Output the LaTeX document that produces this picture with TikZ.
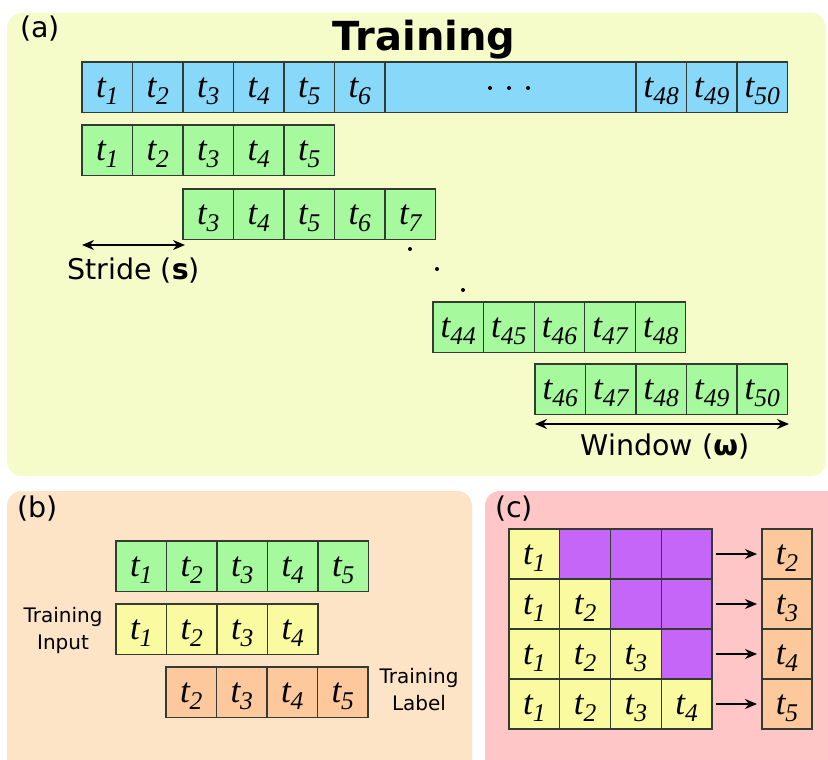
\documentclass[tikz,border=0pt]{standalone}
\usepackage{fontspec}
\usetikzlibrary{arrows.meta}
\newfontfamily\labfont{DejaVu Sans}
\newfontfamily\cellfont{Liberation Serif}
\definecolor{pa}{RGB}{245,252,201}
\definecolor{pb}{RGB}{254,228,199}
\definecolor{pc}{RGB}{255,198,200}
\definecolor{cblue}{RGB}{136,216,250}
\definecolor{cgreen}{RGB}{166,250,157}
\definecolor{cyellow}{RGB}{250,251,160}
\definecolor{corange}{RGB}{253,200,155}
\definecolor{cpurple}{RGB}{197,102,249}
\definecolor{bord}{RGB}{50,60,50}
\newcommand{\ts}[1]{{\cellfont\itshape\fontsize{35}{35}\selectfont t\raisebox{-7pt}{\fontsize{25.5}{25.5}\selectfont #1}}}
\begin{document}
\begin{tikzpicture}[x=1pt,y=-1pt,
  cell/.style={draw=bord, line width=1.1pt, minimum width=50.5pt, minimum height=50.5pt,
    inner sep=0pt, outer sep=0pt, text height=24pt, text depth=4pt, anchor=north west},
  bcell/.style={cell, fill=cblue},
  gcell/.style={cell, fill=cgreen},
  ycell/.style={cell, fill=cyellow},
  ocell/.style={cell, fill=corange},
  pcell/.style={cell, fill=cpurple},
  lab/.style={font=\labfont\fontsize{28.5}{28.5}\selectfont, inner sep=0pt},
  small/.style={font=\labfont\fontsize{20}{27}\selectfont, inner sep=0pt, align=center},
  arr/.style={-{Stealth[length=12pt,width=10pt]}, line width=1.3pt, draw=black},
  darr/.style={{Stealth[length=12pt,width=10pt]}-{Stealth[length=12pt,width=10pt]}, line width=1.3pt, draw=black}
]
\useasboundingbox (0,0) rectangle (828,760);
\clip (0,0) rectangle (828,760);
% panels
\fill[pa, rounded corners=15pt] (7,13) rectangle (826,476);
\fill[pb, rounded corners=15pt] (7,491) rectangle (472,790);
\fill[pc, rounded corners=15pt] (485,491) rectangle (860,790);

% ---------- (a) ----------
\node[lab, anchor=base west] (la) at (20,38) {(a)};
\node[anchor=base, inner sep=0pt, font=\labfont\bfseries\fontsize{40}{40}\selectfont] (title) at (424,51) {Training};

% blue series
\foreach \i in {1,...,6}
  \node[bcell] (bl\i) at ({82+50.5*(\i-1)},62) {\ts{\i}};
\node[bcell, minimum width=251pt] (bldots) at (385,62) {};
\foreach \i/\s in {1/48,2/49,3/50}
  \node[bcell] (bl\s) at ({636+50.5*(\i-1)},62) {\ts{\s}};
\foreach \x in {490,509,528}
  \fill (\x,88) circle (2);

% window rows
\foreach \i/\s in {1/1,2/2,3/3,4/4,5/5}
  \node[gcell] (ga\i) at ({82+50.5*(\i-1)},125) {\ts{\s}};
\foreach \i/\s in {1/3,2/4,3/5,4/6,5/7}
  \node[gcell] (gb\i) at ({183+50.5*(\i-1)},189) {\ts{\s}};
\foreach \i/\s in {1/44,2/45,3/46,4/47,5/48}
  \node[gcell] (gc\i) at ({433+50.6*(\i-1)},302) {\ts{\s}};
\foreach \i/\s in {1/46,2/47,3/48,4/49,5/50}
  \node[gcell] (gd\i) at ({535+50.5*(\i-1)},364) {\ts{\s}};

% diagonal dots
\fill (410,249) circle (2);
\fill (437,269) circle (2);
\fill (463,290) circle (2);

% stride
\coordinate (s1) at (82,245);
\coordinate (s2) at (185,245);
\draw[darr] (s1) -- (s2);
\node[lab, anchor=base west] (stride) at (67,279) {Stride ({\bfseries s})};

% window
\coordinate (w1) at (535,424);
\coordinate (w2) at (789,424);
\draw[darr] (w1) -- (w2);
\node[lab, anchor=base] (window) at (665,455) {Window ({\bfseries ω})};

% ---------- (b) ----------
\node[lab, anchor=base west] (lb) at (17,517) {(b)};
\foreach \i in {1,...,5}
  \node[gcell] (bg\i) at ({116+50.5*(\i-1)},541) {\ts{\i}};
\foreach \i in {1,...,4}
  \node[ycell] (by\i) at ({116+50.5*(\i-1)},604) {\ts{\i}};
\foreach \i/\s in {1/2,2/3,3/4,4/5}
  \node[ocell] (bo\i) at ({166+50.5*(\i-1)},667) {\ts{\s}};
\node[small] (tin) at (63,630) {Training\\Input};
\node[small] (tlab) at (419,690) {Training\\Label};

% ---------- (c) ----------
\node[lab, anchor=base west] (lc) at (495,517) {(c)};
\foreach \r in {1,...,4}{
  \foreach \c in {1,...,4}{
    \ifnum\c>\r
      \node[pcell, minimum width=50.75pt, minimum height=50pt] (c\r\c) at ({509+50.75*(\c-1)},{529+50*(\r-1)}) {};
    \else
      \node[ycell, minimum width=50.75pt, minimum height=50pt] (c\r\c) at ({509+50.75*(\c-1)},{529+50*(\r-1)}) {\ts{\c}};
    \fi
  }
}
\foreach \r/\s in {1/2,2/3,3/4,4/5}
  \node[ocell, minimum width=50pt, minimum height=50pt] (co\r) at (762,{529+50*(\r-1)}) {\ts{\s}};
\foreach \r in {1,...,4}
  \draw[arr] ([xshift=4pt]c\r4.east) -- ([xshift=-5pt]co\r.west);
\end{tikzpicture}
\end{document}
